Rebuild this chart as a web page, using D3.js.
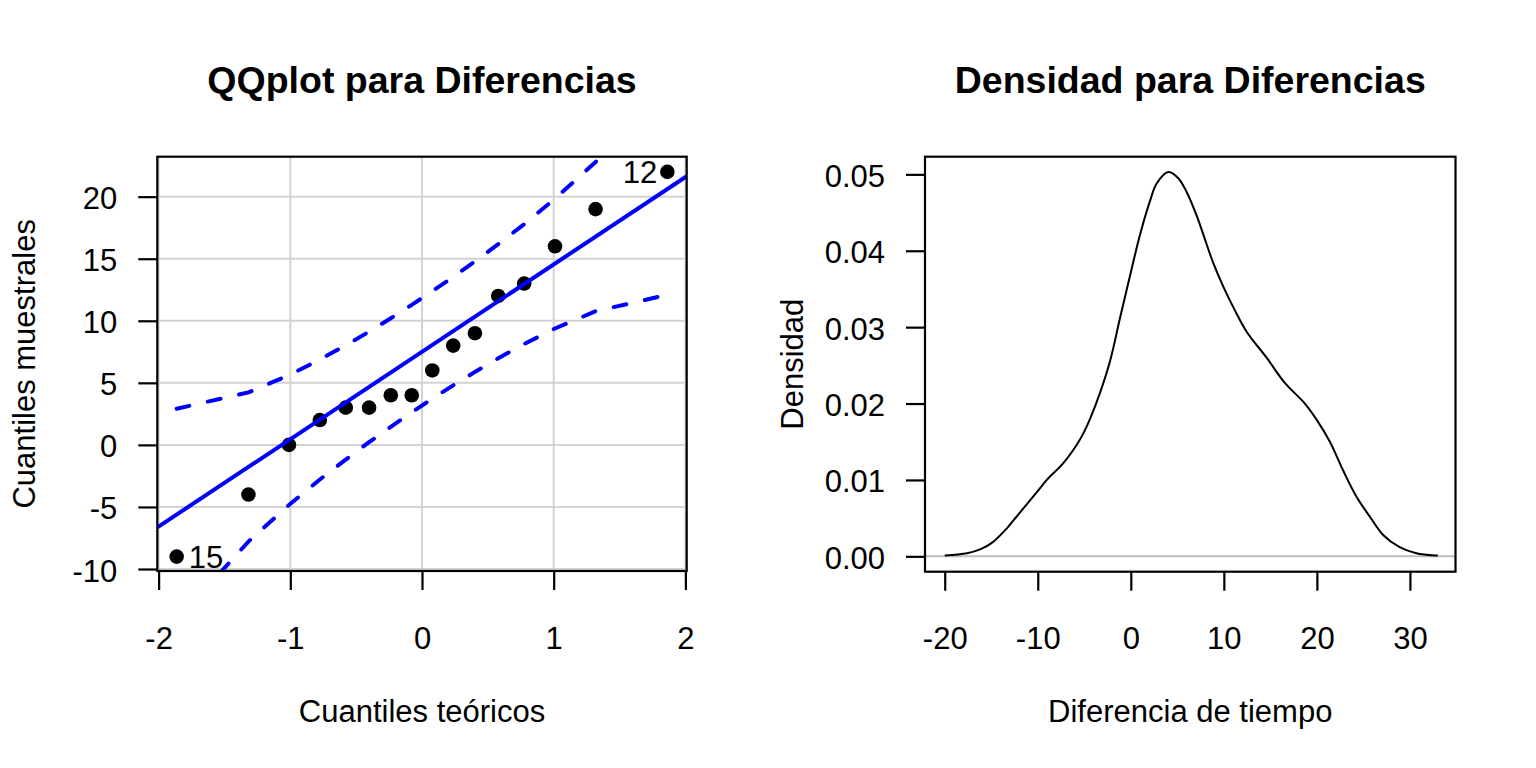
<!DOCTYPE html>
<html>
<head>
<meta charset="utf-8">
<script src="https://cdn.jsdelivr.net/npm/d3@7"></script>
<style>
  html, body { margin: 0; padding: 0; background: #fff; }
  svg { display: block; }
  text { font-family: "Liberation Sans", Arial, sans-serif; fill: #000; }
</style>
</head>
<body>
<svg id="chart" width="1536" height="768"></svg>
<script>
// ---------------- Data ----------------
// QQ plot: theoretical normal quantiles and ordered sample values
const qqTheoretical = [-1.863, -1.318, -1.010, -0.776, -0.579, -0.402, -0.237, -0.078,
                        0.078, 0.237, 0.402, 0.579, 0.776, 1.010, 1.318, 1.863];
const qqSample = [-9, -4, 0, 2, 3, 3, 4, 4, 6, 8, 9, 12, 13, 16, 19, 22];
// 95% confidence envelope (dashed)
const qqUpper = [2.91, 4.23, 5.62, 6.87, 8.02, 9.12, 10.20, 11.28,
                 12.38, 13.54, 14.78, 16.18, 17.79, 19.84, 22.79, 29.15];
const qqLower = [-14.15, -7.79, -4.84, -2.79, -1.18, 0.22, 1.46, 2.62,
                 3.72, 4.80, 5.88, 6.98, 8.13, 9.38, 10.77, 12.09];
// reference line
const qqIntercept = 7.5;
const qqSlope = 7.04;
// labelled points
const qqLabelIndex = [0, 15];
const qqLabelText = ["15", "12"];
const qqXTicks = [-2, -1, 0, 1, 2];
const qqYTicks = [-10, -5, 0, 5, 10, 15, 20];

// Density curve
const densX = [-20.0, -17.6, -16.2, -14.9, -13.3, -12.08, -10.1, -9.03, -7.25, -5.81, -5.1, -4.38,
               -3.31, -2.2, -1.16, -0.09, 0.99, 2.06, 2.78, 4.03, 5.1, 6.0, 7.08, 7.97,
               8.86, 9.94, 11.19, 12.45, 14.6, 16.56, 18.71, 19.97, 21.4, 22.8, 24.26, 25.69,
               27.12, 28.9, 30.7, 32.7, 33.0];
const densY = [0.0001, 0.0004, 0.0009, 0.0018, 0.0037, 0.0055, 0.0084, 0.0100, 0.0122, 0.0146, 0.0161, 0.0180,
               0.0214, 0.0257, 0.0312, 0.0367, 0.0421, 0.0465, 0.0488, 0.0503, 0.0495, 0.0477, 0.0446, 0.0415,
               0.0384, 0.0353, 0.0322, 0.0294, 0.0260, 0.0227, 0.0200, 0.0179, 0.0150, 0.0113, 0.0078, 0.0052,
               0.0028, 0.0012, 0.0004, 0.0001, 0.0001];
const densXTicks = [-20, -10, 0, 10, 20, 30];
const densYTicks = [0, 0.01, 0.02, 0.03, 0.04, 0.05];

// ---------------- Drawing ----------------
const svg = d3.select("#chart");
svg.append("rect").attr("width", 1536).attr("height", 768).attr("fill", "#fff");

const FS = 31;        // base font size
const TFS = 37.5;     // title font size
const TICK = 19;
const LW = 2.2;
const fmtInt = d => String(d);   // plain hyphen-minus like the original

function styleAxis(g) {
  g.select(".domain").remove();
  g.selectAll(".tick line").attr("stroke", "#000").attr("stroke-width", LW);
  g.selectAll(".tick text").attr("font-size", FS).attr("font-family", "Liberation Sans, Arial, sans-serif").attr("fill", "#000");
}

// ===== Left panel: QQ plot =====
const qB = {l: 157.3, r: 686.7, t: 156.7, b: 571};
const qx = d3.scaleLinear().domain([-2.01, 2.01]).range([qB.l, qB.r]);
const qy = d3.scaleLinear().domain([-10.16, 23.22]).range([qB.b, qB.t]);

svg.append("clipPath").attr("id", "qclip")
  .append("rect").attr("x", qB.l).attr("y", qB.t).attr("width", qB.r - qB.l).attr("height", qB.b - qB.t);

const qg = svg.append("g");
const qplot = qg.append("g").attr("clip-path", "url(#qclip)");

// grid
qplot.selectAll("line.vg").data(qqXTicks).join("line")
  .attr("x1", d => qx(d)).attr("x2", d => qx(d)).attr("y1", qB.t).attr("y2", qB.b)
  .attr("stroke", "#d3d3d3").attr("stroke-width", 2);
qplot.selectAll("line.hg").data(qqYTicks).join("line")
  .attr("y1", d => qy(d)).attr("y2", d => qy(d)).attr("x1", qB.l).attr("x2", qB.r)
  .attr("stroke", "#d3d3d3").attr("stroke-width", 2);

// points
const qqData = qqTheoretical.map((z, i) => ({z, v: qqSample[i], up: qqUpper[i], lo: qqLower[i]}));
qplot.selectAll("circle").data(qqData).join("circle")
  .attr("cx", d => qx(d.z)).attr("cy", d => qy(d.v)).attr("r", 7.3).attr("fill", "#000");

// reference line
const xd = qx.domain();
qplot.append("line")
  .attr("x1", qx(xd[0])).attr("y1", qy(qqIntercept + qqSlope * xd[0]))
  .attr("x2", qx(xd[1])).attr("y2", qy(qqIntercept + qqSlope * xd[1]))
  .attr("stroke", "#0000ff").attr("stroke-width", 4);

// envelope
const envUp = d3.line().x(d => qx(d.z)).y(d => qy(d.up));
const envLo = d3.line().x(d => qx(d.z)).y(d => qy(d.lo));
[envUp, envLo].forEach(gen => {
  qplot.append("path").attr("d", gen(qqData))
    .attr("fill", "none").attr("stroke", "#0000ff").attr("stroke-width", 4)
    .attr("stroke-dasharray", "13,19").attr("stroke-linecap", "round");
});

// point labels
qqLabelIndex.forEach((idx, k) => {
  const d = qqData[idx];
  const left = d.z > 0;
  qg.append("text")
    .attr("x", qx(d.z) + (left ? -10 : 12))
    .attr("y", qy(d.v) + 11)
    .attr("text-anchor", left ? "end" : "start")
    .attr("font-size", FS)
    .text(qqLabelText[k]);
});

// box
qg.append("rect").attr("x", qB.l).attr("y", qB.t).attr("width", qB.r - qB.l).attr("height", qB.b - qB.t)
  .attr("fill", "none").attr("stroke", "#000").attr("stroke-width", LW);

// axes
const qxa = qg.append("g").attr("transform", `translate(0,${qB.b})`)
  .call(d3.axisBottom(qx).tickValues(qqXTicks).tickSize(TICK).tickFormat(fmtInt));
styleAxis(qxa);
qxa.selectAll(".tick text").attr("y", 78).attr("dy", 0);

const qya = qg.append("g").attr("transform", `translate(${qB.l},0)`)
  .call(d3.axisLeft(qy).tickValues(qqYTicks).tickSize(TICK).tickFormat(fmtInt));
styleAxis(qya);
qya.selectAll(".tick text").attr("x", -40).attr("dy", 12);

// titles
qg.append("text").attr("x", (qB.l + qB.r) / 2).attr("y", 93).attr("text-anchor", "middle")
  .attr("font-size", TFS).attr("font-weight", "bold").text("QQplot para Diferencias");
qg.append("text").attr("x", (qB.l + qB.r) / 2).attr("y", 722).attr("text-anchor", "middle")
  .attr("font-size", FS).text("Cuantiles teóricos");
qg.append("text").attr("transform", `translate(35,${(qB.t + qB.b) / 2}) rotate(-90)`)
  .attr("text-anchor", "middle").attr("font-size", FS).text("Cuantiles muestrales");

// ===== Right panel: density =====
const dB = {l: 925, r: 1455.5, t: 156.7, b: 571.7};
const dx = d3.scaleLinear().domain([-22.12, 34.9]).range([dB.l, dB.r]);
const dy = d3.scaleLinear().domain([-0.002012, 0.052312]).range([dB.b, dB.t]);

const dg = svg.append("g");
// zero line
dg.append("line").attr("x1", dB.l).attr("x2", dB.r).attr("y1", dy(0)).attr("y2", dy(0))
  .attr("stroke", "#bebebe").attr("stroke-width", 2);

const densData = densX.map((x, i) => ({x, y: densY[i]}));
dg.append("path")
  .attr("d", d3.line().x(d => dx(d.x)).y(d => dy(d.y)).curve(d3.curveCatmullRom.alpha(0.5))(densData))
  .attr("fill", "none").attr("stroke", "#000").attr("stroke-width", 2);

dg.append("rect").attr("x", dB.l).attr("y", dB.t).attr("width", dB.r - dB.l).attr("height", dB.b - dB.t)
  .attr("fill", "none").attr("stroke", "#000").attr("stroke-width", LW);

const dxa = dg.append("g").attr("transform", `translate(0,${dB.b})`)
  .call(d3.axisBottom(dx).tickValues(densXTicks).tickSize(TICK).tickFormat(fmtInt));
styleAxis(dxa);
dxa.selectAll(".tick text").attr("y", 77.3).attr("dy", 0);

const dya = dg.append("g").attr("transform", `translate(${dB.l},0)`)
  .call(d3.axisLeft(dy).tickValues(densYTicks).tickSize(TICK).tickFormat(d3.format(".2f")));
styleAxis(dya);
dya.selectAll(".tick text").attr("x", -40).attr("dy", 12);

dg.append("text").attr("x", (dB.l + dB.r) / 2).attr("y", 93).attr("text-anchor", "middle")
  .attr("font-size", TFS).attr("font-weight", "bold").text("Densidad para Diferencias");
dg.append("text").attr("x", (dB.l + dB.r) / 2).attr("y", 722).attr("text-anchor", "middle")
  .attr("font-size", FS).text("Diferencia de tiempo");
dg.append("text").attr("transform", `translate(803,${(dB.t + dB.b) / 2}) rotate(-90)`)
  .attr("text-anchor", "middle").attr("font-size", FS).text("Densidad");
</script>
</body>
</html>
